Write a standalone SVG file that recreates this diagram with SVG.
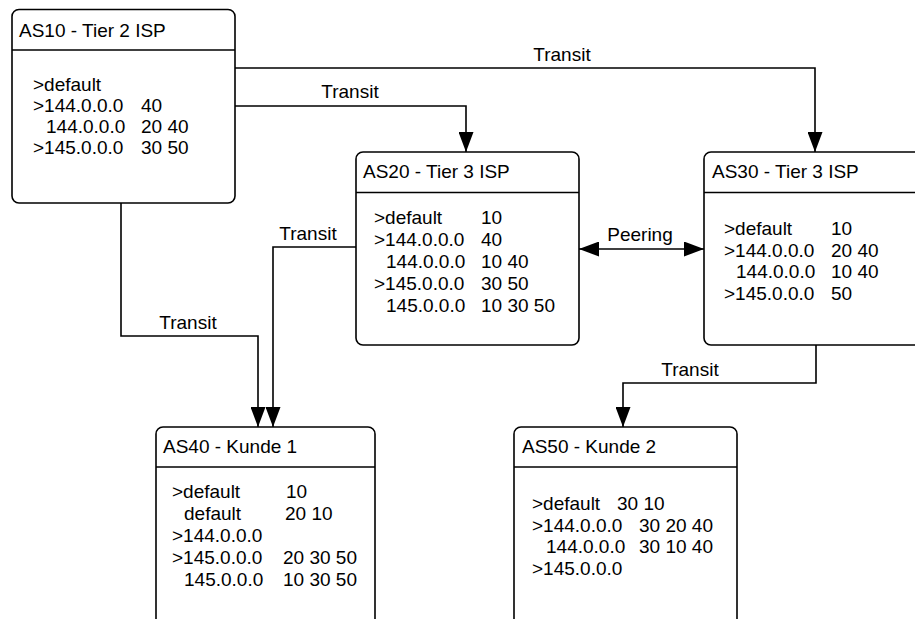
<svg xmlns="http://www.w3.org/2000/svg" width="915" height="619" viewBox="0 0 915 619">
<style>
text{font-family:"Liberation Sans",Arial,Helvetica,sans-serif;font-size:19px;fill:#000}
.box{fill:#fff;stroke:#000;stroke-width:1.6}
.hd{stroke:#000;stroke-width:1.6}
.c{fill:none;stroke:#000;stroke-width:1.6}
.lbl{text-anchor:middle}
</style>
<defs>
<marker id="ar" viewBox="0 0 20 15" refX="20" refY="7.5" markerWidth="20" markerHeight="15" markerUnits="userSpaceOnUse" orient="auto-start-reverse">
<path d="M0,0 L20,7.5 L0,15 Z" fill="#000"/>
</marker>
</defs>
<rect width="915" height="619" fill="#fff"/>
<g id="connectors">
<path class="c" d="M235,68 H815 V152" marker-end="url(#ar)"/>
<path class="c" d="M235,106 H466 V152" marker-end="url(#ar)"/>
<path class="c" d="M121,203 V336 H258 V427" marker-end="url(#ar)"/>
<path class="c" d="M356,247 H273 V427" marker-end="url(#ar)"/>
<path class="c" d="M579,249 H704" marker-start="url(#ar)" marker-end="url(#ar)"/>
<path class="c" d="M816,345 V383 H623 V427" marker-end="url(#ar)"/>
<text class="lbl" x="562" y="61">Transit</text>
<text class="lbl" x="350" y="98">Transit</text>
<text class="lbl" x="188" y="329">Transit</text>
<text class="lbl" x="308" y="240">Transit</text>
<text class="lbl" x="640" y="241">Peering</text>
<text class="lbl" x="690" y="376">Transit</text>
</g>
<g id="AS10">
<rect class="box" x="12" y="9.5" width="223" height="193.5" rx="7"/>
<line class="hd" x1="12" y1="50" x2="235" y2="50"/>
<text x="19" y="37">AS10 - Tier 2 ISP</text>
<text x="33" y="91">&gt;default</text>
<text x="33" y="112">&gt;144.0.0.0</text><text x="141" y="112">40</text>
<text x="46" y="133">144.0.0.0</text><text x="141" y="133">20 40</text>
<text x="33" y="154">&gt;145.0.0.0</text><text x="141" y="154">30 50</text>
</g>
<g id="AS20">
<rect class="box" x="356" y="152" width="223" height="193" rx="7"/>
<line class="hd" x1="356" y1="192.5" x2="579" y2="192.5"/>
<text x="363" y="178">AS20 - Tier 3 ISP</text>
<text x="374" y="224">&gt;default</text><text x="481" y="224">10</text>
<text x="374" y="246">&gt;144.0.0.0</text><text x="481" y="246">40</text>
<text x="386" y="268">144.0.0.0</text><text x="481" y="268">10 40</text>
<text x="374" y="290">&gt;145.0.0.0</text><text x="481" y="290">30 50</text>
<text x="386" y="312">145.0.0.0</text><text x="481" y="312">10 30 50</text>
</g>
<g id="AS30">
<rect class="box" x="704" y="152" width="240" height="193" rx="7"/>
<line class="hd" x1="704" y1="192.5" x2="944" y2="192.5"/>
<text x="712" y="178">AS30 - Tier 3 ISP</text>
<text x="724" y="235">&gt;default</text><text x="831" y="235">10</text>
<text x="724" y="257">&gt;144.0.0.0</text><text x="831" y="257">20 40</text>
<text x="736" y="278">144.0.0.0</text><text x="831" y="278">10 40</text>
<text x="724" y="300">&gt;145.0.0.0</text><text x="831" y="300">50</text>
</g>
<g id="AS40">
<rect class="box" x="156" y="427" width="219" height="200" rx="7"/>
<line class="hd" x1="156" y1="467" x2="375" y2="467"/>
<text x="163" y="453">AS40 - Kunde 1</text>
<text x="172" y="498">&gt;default</text><text x="286" y="498">10</text>
<text x="184" y="520">default</text><text x="285" y="520">20 10</text>
<text x="172" y="542">&gt;144.0.0.0</text>
<text x="172" y="564">&gt;145.0.0.0</text><text x="283" y="564">20 30 50</text>
<text x="184" y="586">145.0.0.0</text><text x="283" y="586">10 30 50</text>
</g>
<g id="AS50">
<rect class="box" x="514" y="427" width="223" height="200" rx="7"/>
<line class="hd" x1="514" y1="467" x2="737" y2="467"/>
<text x="522" y="453">AS50 - Kunde 2</text>
<text x="532" y="510">&gt;default</text><text x="617" y="510">30 10</text>
<text x="532" y="532">&gt;144.0.0.0</text><text x="639" y="532">30 20 40</text>
<text x="546" y="553">144.0.0.0</text><text x="639" y="553">30 10 40</text>
<text x="532" y="575">&gt;145.0.0.0</text>
</g>
</svg>
